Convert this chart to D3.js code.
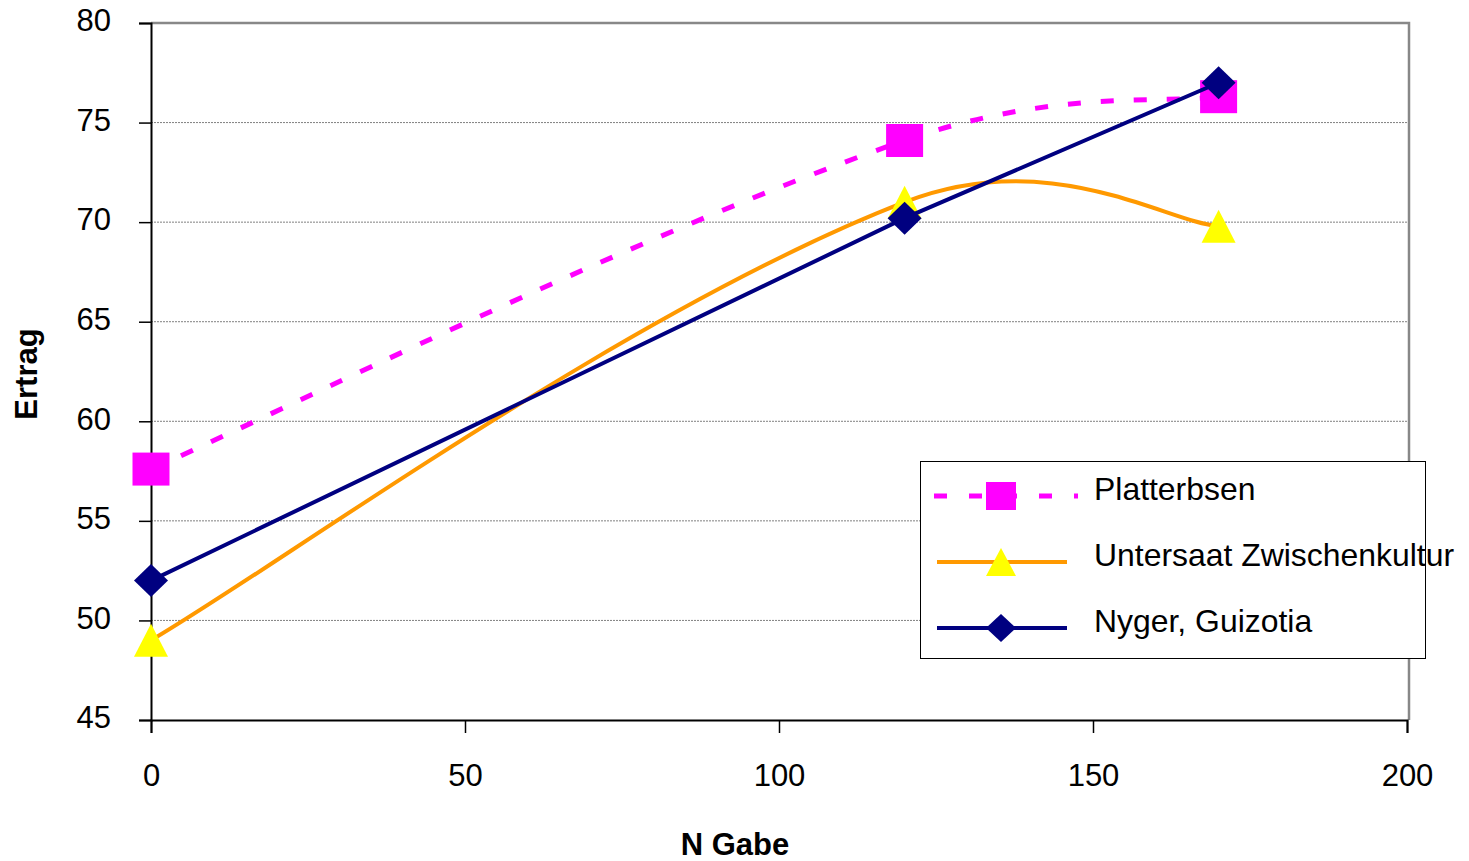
<!DOCTYPE html>
<html>
<head>
<meta charset="utf-8">
<script src="https://cdn.jsdelivr.net/npm/d3@7"></script>
<style>
  body { margin: 0; background: #fff; }
  svg { display: block; font-family: "Liberation Sans", Arial, sans-serif; }
</style>
</head>
<body>
<div id="chart"></div>
<script>
// data
const nGabe = [0, 120, 170];
const platterbsen = [57.6, 74.1, 76.3];
const untersaat = [49.0, 71.0, 69.8];
const nyger = [52.0, 70.2, 77.0];
const seriesNames = ["Platterbsen", "Untersaat Zwischenkultur", "Nyger, Guizotia"];
const xTicks = [0, 50, 100, 150, 200];
const yTicks = [45, 50, 55, 60, 65, 70, 75, 80];

const width = 1469, height = 861;
const margin = { top: 23, right: 62, bottom: 141, left: 151 };

const svg = d3.select("#chart").append("svg")
  .attr("width", width).attr("height", height);

const x = d3.scaleLinear().domain([0, 200]).range([margin.left, width - margin.right]);
const y = d3.scaleLinear().domain([45, 80]).range([height - margin.bottom, margin.top]);

// gridlines
svg.append("g")
  .selectAll("line")
  .data(yTicks.filter(d => d > 45 && d < 80))
  .join("line")
  .attr("x1", x(0)).attr("x2", x(200) + 2)
  .attr("y1", d => y(d)).attr("y2", d => y(d))
  .attr("stroke", "#808080").attr("stroke-width", 1)
  .attr("stroke-dasharray", "2,1");

// plot border (top / right)
svg.append("path")
  .attr("d", `M${x(0)},${y(80)}H${x(200) + 2}V${y(45)}`)
  .attr("fill", "none").attr("stroke", "#888").attr("stroke-width", 2.5);

// axes
const yAxis = svg.append("g")
  .attr("transform", `translate(${x(0)},0)`)
  .call(d3.axisLeft(y).tickValues(yTicks).tickSize(12).tickPadding(28).tickFormat(d3.format("d")));
const xAxis = svg.append("g")
  .attr("transform", `translate(0,${y(45)})`)
  .call(d3.axisBottom(x).tickValues(xTicks).tickSize(13).tickPadding(31).tickFormat(d3.format("d")));

[yAxis, xAxis].forEach(g => {
  g.select(".domain").attr("stroke", "#000").attr("stroke-width", 2);
  g.selectAll(".tick line").attr("stroke", "#000").attr("stroke-width", 1.5);
  g.selectAll(".tick text").attr("fill", "#000").style("font-size", "31px")
    .style("font-family", "'Liberation Sans', Arial, sans-serif");
});
yAxis.selectAll(".tick text").attr("dy", "0.25em");
xAxis.selectAll(".tick text").attr("dy", "0.71em");

// axis titles
svg.append("text")
  .attr("transform", `translate(37,374) rotate(-90)`)
  .attr("text-anchor", "middle")
  .style("font-size", "31px").style("font-weight", "bold")
  .text("Ertrag");
svg.append("text")
  .attr("x", 735).attr("y", 855)
  .attr("text-anchor", "middle")
  .style("font-size", "31px").style("font-weight", "bold")
  .text("N Gabe");

// smoothed line like the spreadsheet: bezier with tangent handles,
// handle length limited to half of the segment, ends use 1/6
function smoothPath(pts, f) {
  const p = d3.path();
  const dist = (a, b) => Math.hypot(b[0] - a[0], b[1] - a[1]);
  const n = pts.length;
  p.moveTo(pts[0][0], pts[0][1]);
  for (let i = 0; i < n - 1; i++) {
    const p0 = pts[Math.max(i - 1, 0)], p1 = pts[i], p2 = pts[i + 1], p3 = pts[Math.min(i + 2, n - 1)];
    const d12 = dist(p1, p2), d02 = dist(p0, p2), d13 = dist(p1, p3);
    const fa = i === 0 ? 1 / 6 : f;
    const fb = i === n - 2 ? 1 / 6 : f;
    const f0 = d02 * fa >= d12 / 2 ? d12 / d02 / 2 : fa;
    const f1 = d13 * fb >= d12 / 2 ? d12 / d13 / 2 : fb;
    p.bezierCurveTo(
      p1[0] + (p2[0] - p0[0]) * f0, p1[1] + (p2[1] - p0[1]) * f0,
      p2[0] - (p3[0] - p1[0]) * f1, p2[1] - (p3[1] - p1[1]) * f1,
      p2[0], p2[1]);
  }
  return p.toString();
}

// markers
function drawMarker(g, type, cx, cy, w, h) {
  if (type === "square") {
    g.append("rect").attr("x", cx - w / 2).attr("y", cy - h / 2)
      .attr("width", w).attr("height", h).attr("fill", "#ff00ff");
  } else if (type === "triangle") {
    g.append("path")
      .attr("d", `M${cx},${cy - h / 2}L${cx + w / 2},${cy + h / 2}L${cx - w / 2},${cy + h / 2}Z`)
      .attr("fill", "#ffff00");
  } else {
    g.append("path")
      .attr("d", `M${cx},${cy - h / 2}L${cx + w / 2},${cy}L${cx},${cy + h / 2}L${cx - w / 2},${cy}Z`)
      .attr("fill", "#000080");
  }
}

const series = [
  { name: seriesNames[0], values: platterbsen, color: "#ff00ff", dash: "13,20", smooth: true, marker: "square", mw: 37, mh: 33 },
  { name: seriesNames[1], values: untersaat, color: "#ff9900", dash: null, smooth: true, marker: "triangle", mw: 34, mh: 33 },
  { name: seriesNames[2], values: nyger, color: "#000080", dash: null, smooth: false, marker: "diamond", mw: 34, mh: 33 }
];

series.forEach(s => {
  const pts = nGabe.map((d, i) => [x(d), y(s.values[i])]);
  const g = svg.append("g");
  g.append("path")
    .attr("d", s.smooth ? smoothPath(pts, 0.26) : d3.line()(pts))
    .attr("fill", "none")
    .attr("stroke", s.color)
    .attr("stroke-width", s.dash ? 5 : 4)
    .attr("stroke-dasharray", s.dash);
  pts.forEach(p => drawMarker(g, s.marker, p[0], p[1], s.mw, s.mh));
});

// legend
const legend = svg.append("g");
legend.append("rect")
  .attr("x", 920.5).attr("y", 461.5).attr("width", 505).attr("height", 197)
  .attr("fill", "#fff").attr("stroke", "#000").attr("stroke-width", 1);

const rowY = [496, 562, 628];
series.forEach((s, i) => {
  const ly = rowY[i];
  legend.append("line")
    .attr("x1", s.dash ? 934 : 937).attr("x2", s.dash ? 1078 : 1067)
    .attr("y1", ly).attr("y2", ly)
    .attr("stroke", s.color)
    .attr("stroke-width", s.dash ? 5 : 4)
    .attr("stroke-dasharray", s.dash ? "13,22" : null);
  drawMarker(legend, s.marker, 1001, ly, 30, 28);
  legend.append("text")
    .attr("transform", `translate(1094,${ly + 3.5}) scale(1.03,1)`)
    .style("font-size", "31px")
    .text(s.name);
});
</script>
</body>
</html>
